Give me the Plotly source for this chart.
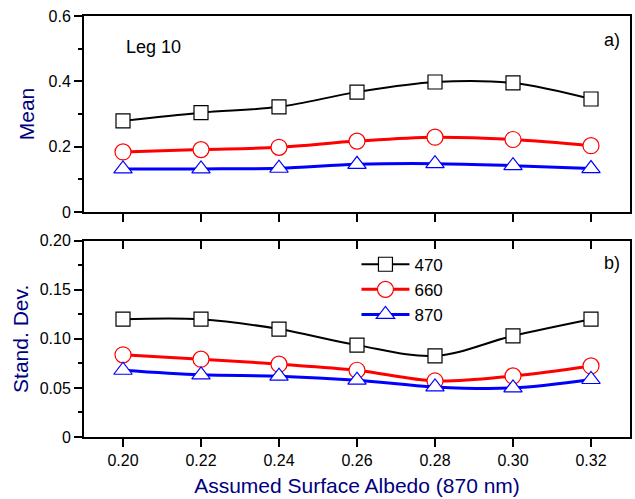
import plotly.graph_objects as go

albedo = [0.20, 0.22, 0.24, 0.26, 0.28, 0.30, 0.32]
mean_470 = [0.279, 0.304, 0.322, 0.367, 0.398, 0.395, 0.346]
mean_660 = [0.184, 0.191, 0.198, 0.217, 0.229, 0.222, 0.203]
mean_870 = [0.132, 0.132, 0.134, 0.146, 0.148, 0.142, 0.133]
std_470 = [0.120, 0.120, 0.110, 0.0936, 0.0827, 0.103, 0.120]
std_660 = [0.0837, 0.0793, 0.0742, 0.068, 0.0571, 0.0622, 0.0724]
std_870 = [0.068, 0.0633, 0.062, 0.0579, 0.051, 0.050, 0.0586]
series_names = ["470", "660", "870"]
colors = ["black", "#ff0000", "#0000ff"]
symbols = ["square", "circle", "triangle-up"]
marker_sizes = [14, 16, 16]
line_widths = [2, 3, 3]
x_ticks = [0.20, 0.22, 0.24, 0.26, 0.28, 0.30, 0.32]

FONT = "Arial, Liberation Sans, sans-serif"
NAVY = "#000080"

fig = go.Figure()
means = [mean_470, mean_660, mean_870]
stds = [std_470, std_660, std_870]
for i in range(3):
    fig.add_trace(go.Scatter(
        x=albedo, y=means[i], xaxis="x", yaxis="y", mode="lines+markers",
        line=dict(color=colors[i], width=line_widths[i], shape="spline", smoothing=1),
        marker=dict(symbol=symbols[i], size=marker_sizes[i], color="white",
                    line=dict(color=colors[i], width=1.2)),
        showlegend=False))
for i in range(3):
    fig.add_trace(go.Scatter(
        x=albedo, y=stds[i], xaxis="x2", yaxis="y2", mode="lines+markers",
        name=series_names[i],
        line=dict(color=colors[i], width=line_widths[i], shape="spline", smoothing=1),
        marker=dict(symbol=symbols[i], size=marker_sizes[i], color="white",
                    line=dict(color=colors[i], width=1.2)),
        showlegend=True))
# empty trace for the top-side tick axis of the lower panel
fig.add_trace(go.Scatter(x=[], y=[], xaxis="x3", yaxis="y2", showlegend=False))

axis_common = dict(showline=True, linecolor="black", linewidth=2, showgrid=False,
                   zeroline=False, tickcolor="black", tickwidth=1.5,
                   tickfont=dict(family=FONT, size=16, color="black"))

fig.update_layout(
    width=635, height=499,
    margin=dict(l=84, r=3, t=16, b=62),
    paper_bgcolor="white", plot_bgcolor="white",
    font=dict(family=FONT, color="black"),
    xaxis=dict(domain=[0, 1], anchor="y", range=[0.19, 0.33], tickvals=x_ticks,
               showticklabels=False, ticks="outside", ticklen=8, mirror=True, **axis_common),
    yaxis=dict(domain=[0.5344, 1], anchor="x", range=[0, 0.6],
               tickvals=[0, 0.2, 0.4, 0.6], ticktext=["0", "0.2", "0.4", "0.6"],
               ticks="outside", ticklen=8, mirror=True,
               minor=dict(tickvals=[0.1, 0.3, 0.5], ticks="outside", ticklen=4,
                          tickcolor="black", tickwidth=1.5),
               title=dict(text="Mean", font=dict(family=FONT, size=21, color=NAVY), standoff=8),
               **axis_common),
    xaxis2=dict(domain=[0, 1], anchor="y2", range=[0.19, 0.33], tickvals=x_ticks,
                ticktext=["0.20", "0.22", "0.24", "0.26", "0.28", "0.30", "0.32"],
                ticks="outside", ticklen=8, mirror=True,
                title=dict(text="Assumed Surface Albedo (870 nm)",
                           font=dict(family=FONT, size=21, color=NAVY), standoff=10),
                **axis_common),
    xaxis3=dict(overlaying="x2", anchor="y2", side="top", range=[0.19, 0.33], tickvals=x_ticks,
                showticklabels=False, ticks="inside", ticklen=8, showline=False,
                showgrid=False, zeroline=False, tickcolor="black", tickwidth=1.5),
    yaxis2=dict(domain=[0, 0.4663], anchor="x2", range=[0, 0.2],
                tickvals=[0, 0.05, 0.10, 0.15, 0.20],
                ticktext=["0", "0.05", "0.10", "0.15", "0.20"],
                ticks="outside", ticklen=8, mirror=True,
                minor=dict(tickvals=[0.025, 0.075, 0.125, 0.175], ticks="outside", ticklen=4,
                           tickcolor="black", tickwidth=1.5),
                title=dict(text="Stand. Dev.", font=dict(family=FONT, size=21, color=NAVY), standoff=5),
                **axis_common),
    legend=dict(x=0.499, y=0.452, xanchor="left", yanchor="top", bgcolor="rgba(0,0,0,0)",
                font=dict(family=FONT, size=17, color="black"), tracegroupgap=0,
                itemwidth=48),
    annotations=[
        dict(text="Leg 10", x=0.128, y=0.926, xref="paper", yref="paper", showarrow=False,
             xanchor="center", yanchor="middle", font=dict(family=FONT, size=18, color="black")),
        dict(text="a)", x=0.967, y=0.943, xref="paper", yref="paper", showarrow=False,
             xanchor="center", yanchor="middle", font=dict(family=FONT, size=18, color="black")),
        dict(text="b)", x=0.967, y=0.413, xref="paper", yref="paper", showarrow=False,
             xanchor="center", yanchor="middle", font=dict(family=FONT, size=18, color="black")),
    ],
)

fig.write_html("out.html")
